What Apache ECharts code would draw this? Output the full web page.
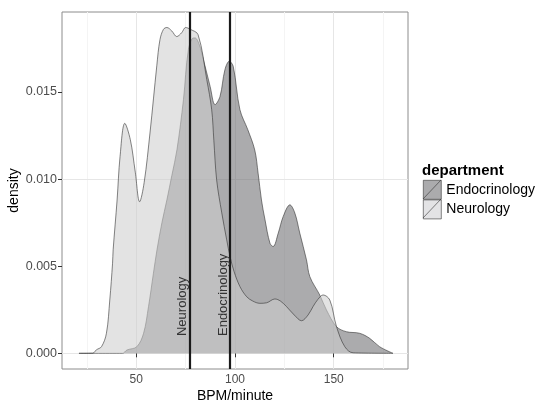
<!DOCTYPE html>
<html>
<head>
<meta charset="utf-8">
<script src="https://cdn.jsdelivr.net/npm/echarts@6/dist/echarts.min.js"></script>
<style>
  html, body { margin: 0; padding: 0; background: #fff; }
  #main { width: 536px; height: 403px; }
</style>
</head>
<body>
<div id="main"></div>
<script>
// density curves (BPM, density)
var neuroX = [21, 28, 29.8, 32.4, 34.9, 36.6, 38, 38.3, 40.3, 41.8, 44.2, 47, 49.5, 51.7, 54, 57, 60.4, 62, 63.8, 65.5, 68, 70.5, 73, 75, 77.3, 81.3, 85.7, 88.2, 89.3, 90.7, 93.3, 95.8, 97.5, 99.5, 102.5, 105.9, 109, 112.6, 116, 120.2, 123, 126.1, 130, 133.7, 137, 139.5, 142, 144.6, 148, 151.4, 155.6, 159.8, 180];
var neuroY = [0, 0.00001, 0.0002, 0.00038, 0.00115, 0.00306, 0.00517, 0.00594, 0.0088, 0.0113, 0.0132, 0.01226, 0.0104, 0.0087, 0.0098, 0.0127, 0.0165, 0.018, 0.0186, 0.0187, 0.0185, 0.01818, 0.0184, 0.0187, 0.0186, 0.01829, 0.01571, 0.01398, 0.0122, 0.00996, 0.00806, 0.00651, 0.00555, 0.0047, 0.00383, 0.00325, 0.003, 0.00287, 0.0029, 0.00312, 0.003, 0.00268, 0.0022, 0.00187, 0.0022, 0.00268, 0.0031, 0.00335, 0.00306, 0.00153, 0.00038, 0.00003, 0];

var endoX = [21, 43, 45.3, 50.3, 53.7, 56.2, 58.7, 60.5, 63, 65.5, 68, 70.6, 73.9, 76.4, 78.9, 79.8, 82, 84, 87.4, 89.9, 92.4, 94.9, 97.1, 99.1, 102.5, 106.5, 110, 111.7, 113.4, 115.2, 117.7, 119.3, 121.9, 124.4, 127.8, 130.3, 132.8, 136.2, 137.9, 142.9, 146.3, 151.4, 156.4, 163.1, 168.2, 173.2, 180];
var endoY = [0, 0, 0.00019, 0.00038, 0.00115, 0.00268, 0.0046, 0.00594, 0.0075, 0.0088, 0.0102, 0.01168, 0.01456, 0.01743, 0.0181, 0.0181, 0.0177, 0.01686, 0.01532, 0.01427, 0.01474, 0.01628, 0.01676, 0.01647, 0.01398, 0.01283, 0.01167, 0.01034, 0.0088, 0.00766, 0.00632, 0.00613, 0.0069, 0.00785, 0.00852, 0.00805, 0.0069, 0.00536, 0.0044, 0.00335, 0.00249, 0.00153, 0.00124, 0.00115, 0.00086, 0.00038, 0];

// department means
var meanNames = ['Neurology', 'Endocrinology'];
var meanValues = [76.9, 97.3];

var xTicks = [50, 100, 150];
var xMinor = [25, 75, 125, 175];
var yTicks = [0, 0.005, 0.01, 0.015];
var yMinor = [0.0025, 0.0075, 0.0125, 0.0175];

var font = 'Liberation Sans, Arial, sans-serif';

function pairs(xs, ys) {
    return xs.map(function (x, i) { return [x, ys[i]]; });
}

var gridLines = [];
xMinor.forEach(function (v) { gridLines.push({ xAxis: v, lineStyle: { color: '#f4f4f4' } }); });
yMinor.forEach(function (v) { gridLines.push({ yAxis: v, lineStyle: { color: '#f4f4f4' } }); });
xTicks.forEach(function (v) { gridLines.push({ xAxis: v, lineStyle: { color: '#e6e6e6' } }); });
yTicks.forEach(function (v) { gridLines.push({ yAxis: v, lineStyle: { color: '#e6e6e6' } }); });

var chart = echarts.init(document.getElementById('main'), null, { renderer: 'canvas' });

var option = {
    animation: false,
    backgroundColor: '#fff',
    textStyle: { fontFamily: font },
    title: {
        text: 'department',
        left: 422,
        top: 163,
        padding: 0,
        textStyle: { fontSize: 15, fontWeight: 'bold', color: '#000', fontFamily: font }
    },
    legend: {
        orient: 'vertical',
        left: 423,
        top: 180,
        padding: 0,
        itemGap: 0,
        itemWidth: 18,
        itemHeight: 19,
        icon: 'rect',
        textStyle: { fontSize: 14, color: '#000', fontFamily: font },
        itemStyle: { borderColor: '#333', borderWidth: 0.6, opacity: 1 },
        data: [
            { name: 'Endocrinology', itemStyle: { color: '#ababad' } },
            { name: 'Neurology', itemStyle: { color: '#e3e3e5' } }
        ]
    },
    grid: {
        left: 62, right: 128, top: 12, bottom: 34,
        outerBoundsMode: 'none',
        containLabel: false,
        show: true, borderColor: '#8c8c8c', borderWidth: 1, backgroundColor: 'transparent'
    },
    xAxis: {
        type: 'value',
        min: 12.4,
        max: 187.6,
        name: 'BPM/minute',
        nameLocation: 'middle',
        nameGap: 20,
        nameMoveOverlap: false,
        nameTextStyle: { fontSize: 14, color: '#000', fontFamily: font },
        axisLine: { show: false },
        splitLine: { show: false },
        axisTick: { show: true, length: 4, customValues: xTicks, lineStyle: { color: '#333' } },
        axisLabel: { customValues: xTicks, fontSize: 12, color: '#4d4d4d', margin: 5 }
    },
    yAxis: {
        type: 'value',
        min: -0.0009,
        max: 0.01959,
        name: 'density',
        nameLocation: 'middle',
        nameGap: 41,
        nameMoveOverlap: false,
        nameTextStyle: { fontSize: 14, color: '#000', fontFamily: font },
        axisLine: { show: false },
        splitLine: { show: false },
        axisTick: { show: true, length: 4, customValues: yTicks, lineStyle: { color: '#333' } },
        axisLabel: {
            customValues: yTicks, fontSize: 12.5, color: '#4d4d4d', margin: 5,
            formatter: function (v) { return v.toFixed(3); }
        }
    },
    graphic: [
        { type: 'line', shape: { x1: 423, y1: 199, x2: 441, y2: 180 }, style: { stroke: '#333', lineWidth: 0.6 }, z: 100 },
        { type: 'line', shape: { x1: 423, y1: 218, x2: 441, y2: 199 }, style: { stroke: '#333', lineWidth: 0.6 }, z: 100 }
    ],
    series: [
        {
            name: 'grid',
            type: 'line',
            data: [],
            z: 0,
            silent: true,
            markLine: {
                z: 0,
                silent: true,
                symbol: 'none',
                label: { show: false },
                lineStyle: { type: 'solid', width: 1 },
                data: gridLines
            }
        },
        {
            name: 'Endocrinology',
            type: 'line',
            z: 2,
            data: pairs(endoX, endoY),
            smooth: 0.35,
            showSymbol: false,
            color: '#ababad',
            lineStyle: { color: '#333', width: 0.6 },
            areaStyle: { color: '#6c6c6e', opacity: 0.57 }
        },
        {
            name: 'Neurology',
            type: 'line',
            z: 3,
            data: pairs(neuroX, neuroY),
            smooth: 0.35,
            showSymbol: false,
            color: '#e3e3e5',
            lineStyle: { color: '#333', width: 0.6 },
            areaStyle: { color: '#cecece', opacity: 0.57 }
        },
        {
            name: 'means',
            type: 'line',
            z: 5,
            data: [],
            markLine: {
                z: 6,
                silent: true,
                symbol: 'none',
                label: { show: false },
                lineStyle: { color: '#1a1a1a', width: 2.2, type: 'solid' },
                data: meanValues.map(function (v) { return { xAxis: v }; })
            },
            markPoint: {
                z: 7,
                silent: true,
                symbol: 'circle',
                symbolSize: 0,
                data: meanValues.map(function (v, i) {
                    return { name: meanNames[i], coord: [v, 0.00105], value: meanNames[i] };
                }),
                label: {
                    show: true,
                    formatter: '{b}',
                    position: 'inside',
                    rotate: 90,
                    align: 'left',
                    verticalAlign: 'bottom',
                    offset: [-1, 0],
                    fontSize: 13,
                    color: '#333',
                    fontFamily: font
                }
            }
        }
    ]
};

chart.setOption(option);
</script>
</body>
</html>
